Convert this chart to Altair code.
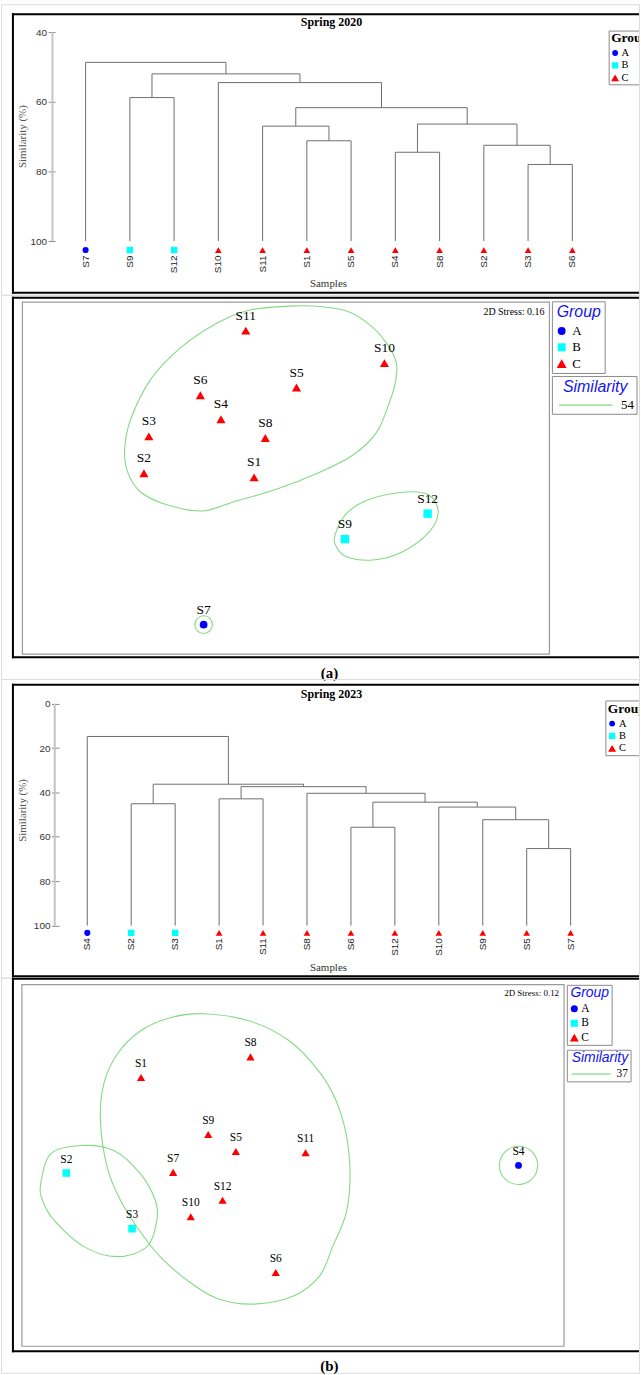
import altair as alt
import pandas as pd

SERIF = "Liberation Serif"
SANS = "Liberation Sans"
GREEN = "#84da84"
LINK_GREY = "#6e6e6e"
LEGEND_BLUE = "#1414f0"

GROUPS = ["A", "B", "C"]
GROUP_COLORS = ["#0000ff", "#00ffff", "#ff0000"]
GROUP_SHAPES = ["circle", "square", "triangle-up"]

SAMPLES = ["S1", "S2", "S3", "S4", "S5", "S6", "S7", "S8", "S9", "S10", "S11", "S12"]

# ---------------- Spring 2020 ----------------
groups_2020 = ["C", "C", "C", "C", "C", "C", "A", "C", "B", "C", "C", "B"]
leaf_order_2020 = ["S7", "S9", "S12", "S10", "S11", "S1", "S5", "S4", "S8", "S2", "S3", "S6"]
# (left, right, similarity %) ; "mK" refers to the K-th merge
merges_2020 = [
    ("S3", "S6", 78.0),
    ("S4", "S8", 74.5),
    ("S2", "m0", 72.5),
    ("S1", "S5", 71.2),
    ("S11", "m3", 67.0),
    ("m1", "m2", 66.4),
    ("m4", "m5", 61.7),
    ("S9", "S12", 58.8),
    ("S10", "m6", 54.5),
    ("m7", "m8", 52.0),
    ("S7", "m9", 48.7),
]
nmds_x_2020 = [-0.213, -0.951, -0.918, -0.435, 0.071, -0.573, -0.551, -0.138, 0.395, 0.660, -0.269, 0.949]
nmds_y_2020 = [0.005, 0.033, 0.280, 0.395, 0.607, 0.555, -0.982, 0.269, -0.409, 0.771, 0.989, -0.238]
stress_2020 = "0.16"
similarity_2020 = "54"
contours_2020 = {
    "C": [(0.027, 1.153), (0.227, 1.151), (0.407, 1.120), (0.560, 1.029), (0.673, 0.907),
          (0.740, 0.773), (0.733, 0.640), (0.693, 0.507), (0.607, 0.307), (0.447, 0.153),
          (0.227, 0.040), (-0.060, -0.073), (-0.353, -0.160), (-0.560, -0.220), (-0.793, -0.180),
          (-0.973, -0.093), (-1.060, 0.040), (-1.080, 0.193), (-1.040, 0.393), (-0.907, 0.660),
          (-0.707, 0.873), (-0.460, 1.040), (-0.240, 1.127)],
    "B": [(0.329, -0.382), (0.405, -0.238), (0.560, -0.142), (0.805, -0.093), (0.960, -0.115),
          (1.020, -0.227), (0.960, -0.360), (0.782, -0.493), (0.582, -0.549), (0.405, -0.527),
          (0.338, -0.460)],
}
singletons_2020 = ["S7"]

# ---------------- Spring 2023 ----------------
groups_2023 = ["C", "B", "B", "A", "C", "C", "C", "C", "C", "C", "C", "C"]
leaf_order_2023 = ["S4", "S2", "S3", "S1", "S11", "S8", "S6", "S12", "S10", "S9", "S5", "S7"]
merges_2023 = [
    ("S5", "S7", 65.3),
    ("S6", "S12", 55.7),
    ("S9", "m0", 52.3),
    ("S10", "m2", 46.6),
    ("S2", "S3", 45.1),
    ("m1", "m3", 44.4),
    ("S1", "S11", 42.9),
    ("S8", "m5", 40.4),
    ("m6", "m7", 37.4),
    ("m4", "m8", 36.3),
    ("S4", "m9", 14.8),
]
nmds_x_2023 = [-1.015, -1.515, -1.075, 1.513, -0.380, -0.113, -0.800, -0.282, -0.565, -0.682, 0.087, -0.469]
nmds_y_2023 = [0.591, -0.049, -0.422, 0.002, 0.095, -0.715, -0.045, 0.729, 0.209, -0.342, 0.087, -0.231]
stress_2023 = "0.12"
similarity_2023 = "37"
contours_2023 = {
    "C": [(-0.598, 1.018), (-0.287, 0.969), (-0.020, 0.835), (0.180, 0.627), (0.291, 0.435),
          (0.358, 0.213), (0.385, -0.053), (0.358, -0.320), (0.269, -0.540), (0.180, -0.740),
          (0.002, -0.875), (-0.265, -0.927), (-0.509, -0.887), (-0.709, -0.765), (-0.887, -0.609),
          (-1.020, -0.442), (-1.153, -0.231), (-1.242, -0.009), (-1.287, 0.302), (-1.265, 0.547),
          (-1.175, 0.747), (-1.020, 0.902), (-0.820, 0.991)],
    "B": [(-1.687, -0.120), (-1.620, 0.080), (-1.420, 0.135), (-1.198, 0.102), (-1.020, -0.053),
          (-0.920, -0.231), (-0.909, -0.365), (-0.975, -0.542), (-1.175, -0.609), (-1.398, -0.542),
          (-1.598, -0.365), (-1.675, -0.231)],
}
singletons_2023 = ["S4"]

PAGE_W = 641
ONE = pd.DataFrame({"k": [0]})


# ---------------- helpers ----------------
def hline(y, x1, x2, color="black", width=2.0):
    return alt.Chart(ONE).mark_rule(color=color, strokeWidth=width).encode(
        x=alt.value(x1), x2=alt.value(x2), y=alt.value(y))


def vline(x, y1, y2, color="black", width=2.0):
    return alt.Chart(ONE).mark_rule(color=color, strokeWidth=width).encode(
        x=alt.value(x), y=alt.value(y1), y2=alt.value(y2))


def box(x1, x2, y1, y2, stroke="#8a8a8a", width=1.0):
    return alt.Chart(ONE).mark_rect(fill="white", stroke=stroke, strokeWidth=width).encode(
        x=alt.value(x1), x2=alt.value(x2), y=alt.value(y1), y2=alt.value(y2))


def text(t, x, y, size, font=SERIF, weight="normal", style="normal", color="black",
         align="center", angle=0, clip=False):
    props = dict(text=t, font=font, fontSize=size, fontWeight=weight, fontStyle=style,
                 color=color, align=align, baseline="middle", angle=angle)
    if clip:
        props["clip"] = True
    return alt.Chart(ONE).mark_text(**props).encode(x=alt.value(x), y=alt.value(y))


def legend_rows(x_sym, x_txt, y0, dy, sym_sizes, font_size):
    rows = []
    for i, (g, c, s) in enumerate(zip(GROUPS, GROUP_COLORS, GROUP_SHAPES)):
        y = y0 + i * dy
        rows.append(alt.Chart(ONE).mark_point(shape=s, filled=True, color=c, size=sym_sizes[i],
                                              opacity=1, strokeWidth=0)
                    .encode(x=alt.value(x_sym), y=alt.value(y)))
        rows.append(text(g, x_txt, y, font_size, align="left"))
    return rows


def outer_frame(top, bottom):
    return [hline(top, 11, PAGE_W), hline(bottom, 11, PAGE_W), vline(12, top - 1, bottom + 1)]


def group_encodings(sizes):
    return dict(
        shape=alt.Shape("group:N", scale=alt.Scale(domain=GROUPS, range=GROUP_SHAPES), legend=None),
        color=alt.Color("group:N", scale=alt.Scale(domain=GROUPS, range=GROUP_COLORS), legend=None),
        size=alt.Size("group:N", scale=alt.Scale(domain=GROUPS, range=sizes), legend=None),
    )


def dendrogram_segments(order, merges):
    pos = {name: (float(i), 100.0) for i, name in enumerate(order)}
    rows = []
    for k, (a, b, h) in enumerate(merges):
        xa, ha = pos[a]
        xb, hb = pos[b]
        rows.append(dict(x=xa, x2=xa, y=ha, y2=h))
        rows.append(dict(x=xb, x2=xb, y=hb, y2=h))
        rows.append(dict(x=xa, x2=xb, y=h, y2=h))
        pos[f"m{k}"] = ((xa + xb) / 2.0, h)
    return pd.DataFrame(rows)


# ---------------- dendrogram panel ----------------
def dendro_panel(title, order, groups, merges, L):
    grp = dict(zip(SAMPLES, groups))
    seg = dendrogram_segments(order, merges)
    leaves = pd.DataFrame({"sample": order, "pos": list(range(len(order))),
                           "group": [grp[s] for s in order]})
    ticks = L["ticks"]
    xs = alt.Scale(domain=[0, len(order) - 1], range=L["x_range"], nice=False, zero=False)
    ys = alt.Scale(domain=[ticks[0], ticks[-1]], range=L["y_range"], nice=False, zero=False)
    y_axis = alt.Axis(
        values=ticks, offset=-L["tick_x"], tickSize=L["tick_size"], tickColor="#8a8a8a",
        tickWidth=1, domain=False, grid=False, labelFont=SANS, labelFontSize=10,
        labelColor="#333333", labelPadding=1.5, title=None)

    axis_line = alt.Chart(pd.DataFrame({"lo": [ticks[0]], "hi": [ticks[-1]]})).mark_rule(
        color="#c4c4c4", strokeWidth=2).encode(
        x=alt.value(L["axis_line_x"]), y=alt.Y("lo:Q", scale=ys, axis=y_axis), y2="hi:Q")

    links = alt.Chart(seg).mark_rule(color=LINK_GREY, strokeWidth=1).encode(
        x=alt.X("x:Q", scale=xs, axis=None), x2="x2:Q",
        y=alt.Y("y:Q", scale=ys, axis=y_axis), y2="y2:Q")

    markers = alt.Chart(leaves).mark_point(filled=True, opacity=1, strokeWidth=0).encode(
        x=alt.X("pos:Q", scale=xs, axis=None), y=alt.value(L["marker_y"]),
        **group_encodings(L["marker_sizes"]))

    names = alt.Chart(leaves).mark_text(angle=270, align="right", baseline="middle", font=SANS,
                                        fontSize=10, color="#222222").encode(
        x=alt.X("pos:Q", scale=xs, axis=None), y=alt.value(L["name_y"]), text="sample:N")

    lg = L["legend"]
    legend = [
        hline(lg["top"], lg["left"], PAGE_W, color="#8a8a8a", width=1),
        hline(lg["bottom"], lg["left"], PAGE_W, color="#8a8a8a", width=1),
        vline(lg["left"], lg["top"], lg["bottom"], color="#8a8a8a", width=1),
        text("Group", lg["left"] + 2, lg["title_y"], 13.5, weight="bold", align="left", clip=True),
    ] + legend_rows(lg["sym_x"], lg["txt_x"], lg["row0"], lg["row_dy"], [34, 40, 64], 10.5)

    layers = outer_frame(L["frame_top"], L["frame_bottom"]) + [
        axis_line, links, markers, names,
        text(title, 332, L["title_y"], 12, weight="bold"),
        text("Samples", 329, L["samples_y"], 11, color="#333333"),
        text("Similarity (%)", 22, L["ytitle_y"], 11, color="#555555", angle=270),
    ] + legend
    return alt.layer(*layers).properties(width=PAGE_W, height=L["height"])


# ---------------- NMDS panel ----------------
def nmds_panel(xv, yv, groups, contours, singletons, stress, level, tag, L):
    pts = pd.DataFrame({"sample": SAMPLES, "x": xv, "y": yv, "group": groups})
    rows = []
    for cid, verts in contours.items():
        for k, (cx, cy) in enumerate(verts):
            rows.append(dict(cid=cid, k=k, x=cx, y=cy))
    outline = pd.DataFrame(rows)

    xs = alt.Scale(domain=L["x_domain"], range=L["x_range"], nice=False, zero=False)
    ys = alt.Scale(domain=L["y_domain"], range=L["y_range"], nice=False, zero=False)
    X = alt.X("x:Q", scale=xs, axis=None)
    Y = alt.Y("y:Q", scale=ys, axis=None)

    ix1, ix2, iy1, iy2 = L["inner"]
    contour_lines = alt.Chart(outline).mark_line(
        interpolate="cardinal-closed", color=GREEN, strokeWidth=1.1).encode(
        x=X, y=Y, detail="cid:N", order="k:Q")

    rings = alt.Chart(pts).transform_filter(
        alt.FieldOneOfPredicate(field="sample", oneOf=singletons)).mark_point(
        shape="circle", filled=False, color=GREEN, strokeWidth=1.1, opacity=1,
        size=L["ring_size"]).encode(x=X, y=Y)

    points = alt.Chart(pts).mark_point(filled=True, opacity=1, strokeWidth=0).encode(
        x=X, y=Y, **group_encodings(L["point_sizes"]))

    labels = alt.Chart(pts).mark_text(font=SERIF, fontSize=L["label_size"], dy=L["label_dy"],
                                      baseline="middle", color="black").encode(
        x=X, y=Y, text="sample:N")

    g = L["group_box"]
    s = L["sim_box"]
    legend = [
        box(g["x1"], g["x2"], g["y1"], g["y2"]),
        text("Group", (g["x1"] + g["x2"]) / 2, g["title_y"], L["legend_title_size"],
             font=SANS, style="italic", color=LEGEND_BLUE),
    ] + legend_rows(g["sym_x"], g["txt_x"], g["row0"], g["row_dy"], L["legend_sym_sizes"],
                    L["legend_text_size"]) + [
        box(s["x1"], s["x2"], s["y1"], s["y2"]),
        text("Similarity", s["title_x"], s["title_y"], L["legend_title_size"],
             font=SANS, style="italic", color=LEGEND_BLUE),
        hline(s["line_y"], s["line_x1"], s["line_x2"], color=GREEN, width=1.2),
        text(level, s["x2"] - 3, s["line_y"], L["legend_text_size"], align="right"),
    ]

    layers = outer_frame(L["frame_top"], L["frame_bottom"]) + [
        box(ix1, ix2, iy1, iy2, stroke="#9a9a9a", width=1.2),
        contour_lines, rings, points, labels,
        text(f"2D Stress: {stress}", ix2 - 5, L["stress_y"], L["stress_size"], align="right"),
        text(tag, 330, L["tag_y"], 15, weight="bold"),
    ] + legend
    return alt.layer(*layers).properties(width=PAGE_W, height=L["height"])


dendro_2020 = dendro_panel("Spring 2020", leaf_order_2020, groups_2020, merges_2020, dict(
    height=292, frame_top=10, frame_bottom=290, title_y=18,
    ticks=[40, 60, 80, 100], x_range=[85, 574], y_range=[28, 238],
    tick_x=54.3, tick_size=7, axis_line_x=51.7,
    marker_y=247, marker_sizes=[38, 45, 64], name_y=252.5,
    samples_y=281, ytitle_y=133,
    legend=dict(left=611, top=27, bottom=81, title_y=34, sym_x=617, txt_x=623.5,
                row0=49, row_dy=12.5),
))

nmds_2020 = nmds_panel(nmds_x_2020, nmds_y_2020, groups_2020, contours_2020, singletons_2020,
                       stress_2020, similarity_2020, "(a)", dict(
    height=386, frame_top=3, frame_bottom=364,
    inner=(21.5, 551, 7.3, 361),
    x_domain=[-1.765, 1.765], x_range=[21.5, 551],
    y_domain=[-1.18, 1.18], y_range=[361, 7.3],
    point_sizes=[60, 85, 128], ring_size=314,
    label_size=13.5, label_dy=-15,
    stress_y=17, stress_size=10, tag_y=379.7,
    legend_title_size=16, legend_text_size=13, legend_sym_sizes=[64, 64, 100],
    group_box=dict(x1=554, x2=607, y1=7, y2=79, title_y=17.5, sym_x=563.3, txt_x=574,
                   row0=36.3, row_dy=16.4),
    sim_box=dict(x1=554, x2=639, y1=82, y2=120, title_x=597, title_y=92.5,
                 line_x1=560.7, line_x2=614.3, line_y=110.7),
))

dendro_2023 = dendro_panel("Spring 2023", leaf_order_2023, groups_2023, merges_2023, dict(
    height=300, frame_top=5.7, frame_bottom=298.7, title_y=14.7,
    ticks=[0, 20, 40, 60, 80, 100], x_range=[86.7, 572.3], y_range=[24.7, 247.7],
    tick_x=58.3, tick_size=7.6, axis_line_x=54,
    marker_y=255, marker_sizes=[38, 45, 64], name_y=260.3,
    samples_y=290, ytitle_y=132,
    legend=dict(left=607.7, top=22, bottom=77, title_y=30.3, sym_x=614, txt_x=621,
                row0=44.7, row_dy=12.5),
))

nmds_2023 = nmds_panel(nmds_x_2023, nmds_y_2023, groups_2023, contours_2023, singletons_2023,
                       stress_2023, similarity_2023, "(b)", dict(
    height=397, frame_top=1.2, frame_bottom=375.3,
    inner=(21, 565.7, 7, 370.3),
    x_domain=[-1.813, 1.818], x_range=[21, 565.7],
    y_domain=[-1.209, 1.213], y_range=[370.3, 7],
    point_sizes=[47, 69, 100], ring_size=1473,
    label_size=11.5, label_dy=-13.5,
    stress_y=15.3, stress_size=9, tag_y=390,
    legend_title_size=14, legend_text_size=11.5, legend_sym_sizes=[50, 50, 80],
    group_box=dict(x1=569, x2=614, y1=7.7, y2=68, title_y=15.8, sym_x=576, txt_x=583,
                   row0=31.3, row_dy=14.5),
    sim_box=dict(x1=569, x2=633, y1=73, y2=104.7, title_x=601.7, title_y=80.8,
                 line_x1=573.3, line_x2=612.3, line_y=97),
))

chart = alt.vconcat(
    dendro_2020, nmds_2020, dendro_2023, nmds_2023,
    spacing=0, bounds="flush", padding=0,
).resolve_scale(
    color="independent", shape="independent", size="independent",
).configure_view(strokeWidth=0).configure(background="white")

chart.save("out.html", embed_options={"renderer": "svg", "actions": False})
